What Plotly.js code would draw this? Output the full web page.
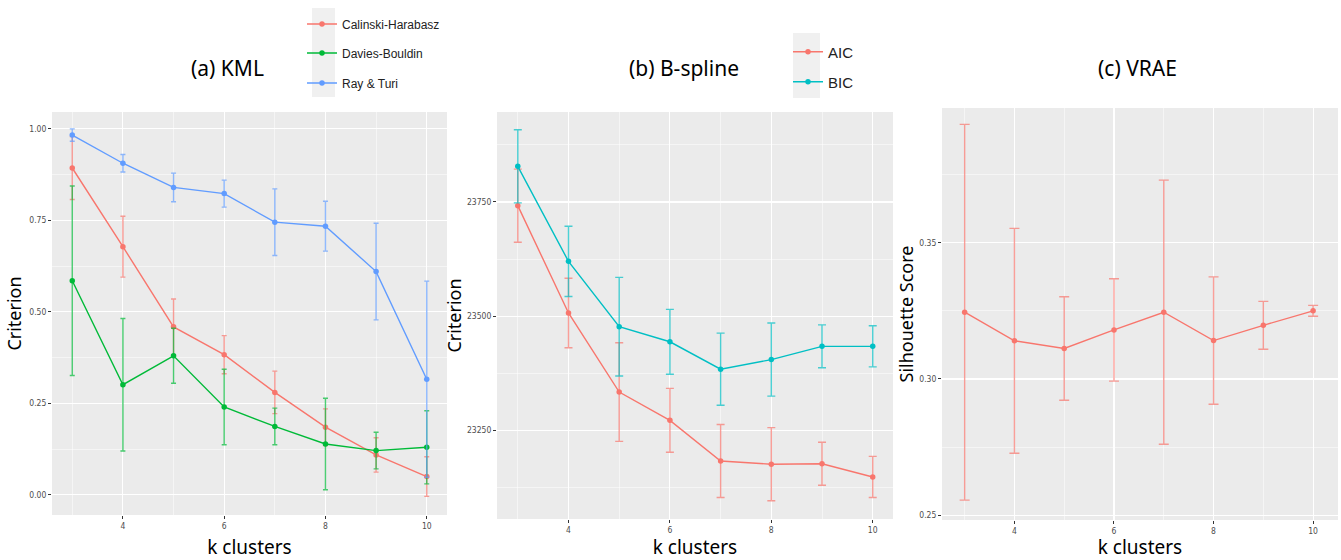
<!DOCTYPE html>
<html><head><meta charset="utf-8">
<script src="https://cdn.plot.ly/plotly-3.0.1.min.js"></script>
<style>html,body{margin:0;padding:0;background:#fff}#chart{width:1341px;height:560px}</style>
</head><body><div id="chart"></div>
<script>
// ---------- data ----------
const kClusters = [3, 4, 5, 6, 7, 8, 9, 10];

// (a) KML
const calinskiMean = [0.893, 0.678, 0.459, 0.383, 0.280, 0.185, 0.109, 0.050];
const calinskiErr  = [0.086, 0.083, 0.076, 0.052, 0.058, 0.050, 0.047, 0.054];
const daviesMean   = [0.585, 0.301, 0.380, 0.240, 0.187, 0.139, 0.121, 0.130];
const daviesErr    = [0.259, 0.181, 0.075, 0.103, 0.050, 0.125, 0.050, 0.100];
const rayTuriMean  = [0.983, 0.906, 0.840, 0.823, 0.745, 0.734, 0.610, 0.316];
const rayTuriErr   = [0.017, 0.024, 0.039, 0.037, 0.091, 0.068, 0.132, 0.268];

// (b) B-spline
const aicMean = [23742, 23507, 23334, 23272, 23183, 23176, 23177, 23148];
const aicErr  = [80, 76, 108, 70, 80, 80, 47, 45];
const bicMean = [23828, 23620, 23477, 23444, 23384, 23405, 23434, 23434];
const bicErr  = [80, 77, 108, 71, 79, 80, 47, 45];

// (c) VRAE
const silMean = [0.3245, 0.3140, 0.3112, 0.3180, 0.3245, 0.3141, 0.3197, 0.3250];
const silErr  = [0.0690, 0.0413, 0.0190, 0.0188, 0.0485, 0.0234, 0.0088, 0.0020];

const panelTitles = ['(a) KML', '(b) B-spline', '(c) VRAE'];

// ---------- styling ----------
const RED = '#F8766D', GREEN = '#00BA38', BLUE = '#619CFF', TEAL = '#00BFC4';
const W = 1341, H = 560;
const px = v => v / W;
const py = v => 1 - v / H;
const TICKFONT = {family: 'Liberation Sans Narrow, DejaVu Sans Condensed, Liberation Sans, sans-serif', size: 8.5, color: '#4d4d4d'};
const TITLEFONT = 'Noto Sans, Open Sans, Liberation Sans, sans-serif';

function rgba(hex, a) {
  const r = parseInt(hex.slice(1,3),16), g = parseInt(hex.slice(3,5),16), b = parseInt(hex.slice(5,7),16);
  return `rgba(${r},${g},${b},${a})`;
}

function series(name, y, err, color, xa, ya, legend, showlegend, capw) {
  return {
    type: 'scatter', mode: 'lines+markers', name: name,
    x: kClusters, y: y, xaxis: xa, yaxis: ya,
    line: {color: color, width: 1.4},
    marker: {color: color, size: 5.5},
    error_y: {type: 'data', array: err, symmetric: true, color: rgba(color, 0.7), thickness: 1.4, width: capw},
    legend: legend, showlegend: showlegend
  };
}

const traces = [
  series('Calinski-Harabasz', calinskiMean, calinskiErr, RED, 'x', 'y', 'legend', true, 2.5),
  series('Davies-Bouldin', daviesMean, daviesErr, GREEN, 'x', 'y', 'legend2', true, 2.5),
  series('Ray & Turi', rayTuriMean, rayTuriErr, BLUE, 'x', 'y', 'legend3', true, 2.5),
  series('AIC', aicMean, aicErr, RED, 'x2', 'y2', 'legend4', true, 4),
  series('BIC', bicMean, bicErr, TEAL, 'x2', 'y2', 'legend5', true, 4),
  series('Silhouette', silMean, silErr, RED, 'x3', 'y3', 'legend', false, 5)
];

function xAxis(dom, range, anchor) {
  return {
    domain: dom, range: range, anchor: anchor,
    tickmode: 'linear', tick0: 4, dtick: 2,
    showgrid: true, gridcolor: '#ffffff', gridwidth: 1.1, zeroline: false, showline: false,
    minor: {tickmode: 'linear', tick0: 3, dtick: 1, showgrid: true, gridcolor: '#ffffff', gridwidth: 0.5, ticks: ''},
    ticks: 'outside', ticklen: 3, tickcolor: '#333', tickwidth: 1,
    tickfont: TICKFONT,
    title: {text: 'k clusters', font: {family: TITLEFONT, size: 19, color: '#000'}, standoff: 13}
  };
}
function yAxis(dom, range, tick0, dtick, minor, fmt, anchor, title, standoff) {
  return {
    domain: dom, range: range, anchor: anchor,
    tickmode: 'linear', tick0: tick0, dtick: dtick, tickformat: fmt,
    showgrid: true, gridcolor: '#ffffff', gridwidth: 1.1, zeroline: false, showline: false,
    minor: {tickmode: 'linear', tick0: tick0, dtick: minor, showgrid: true, gridcolor: '#ffffff', gridwidth: 0.5, ticks: ''},
    ticks: 'outside', ticklen: 3, tickcolor: '#333', tickwidth: 1,
    tickfont: TICKFONT,
    title: {text: title, font: {family: TITLEFONT, size: 18, color: '#000'}, standoff: standoff}
  };
}

function legendAt(x, yc, size) {
  return {x: px(x), y: py(yc), xanchor: 'left', yanchor: 'middle', bgcolor: 'rgba(0,0,0,0)',
          font: {family: 'Liberation Sans, Arial, sans-serif', size: size, color: '#222'}, borderwidth: 0};
}

const layout = {
  width: W, height: H,
  margin: {l: 0, r: 0, t: 0, b: 0},
  paper_bgcolor: '#ffffff', plot_bgcolor: '#ebebeb',
  showlegend: true,
  xaxis: xAxis([px(52), px(447)], [2.6, 10.4], 'y'),
  yaxis: yAxis([py(515), py(112)], [-0.055, 1.046], 0, 0.25, 0.125, '.2f', 'x', 'Criterion', 2),
  xaxis2: xAxis([px(497), px(893)], [2.59, 10.4], 'y2'),
  yaxis2: yAxis([py(519), py(112)], [23056, 23947], 23250, 250, 125, 'd', 'x2', 'Criterion', 0),
  xaxis3: xAxis([px(942), px(1338)], [2.545, 10.5], 'y3'),
  yaxis3: yAxis([py(520), py(108)], [0.2482, 0.3995], 0.25, 0.05, 0.025, '.2f', 'x3', 'Silhouette Score', 0),
  legend: legendAt(302, 24, 12),
  legend2: legendAt(302, 53, 12),
  legend3: legendAt(302, 83, 12),
  legend4: legendAt(788, 52, 15),
  legend5: legendAt(788, 82, 15),
  shapes: [
    {type: 'rect', xref: 'paper', yref: 'paper', x0: px(312), x1: px(335), y0: py(97), y1: py(8), fillcolor: '#f0f0f0', line: {width: 0}, layer: 'below'},
    {type: 'rect', xref: 'paper', yref: 'paper', x0: px(793), x1: px(820), y0: py(98), y1: py(33), fillcolor: '#f0f0f0', line: {width: 0}, layer: 'below'}
  ],
  annotations: [
    {text: panelTitles[0], xref: 'paper', yref: 'paper', x: px(227), y: py(68), showarrow: false, xanchor: 'center', yanchor: 'middle', font: {family: TITLEFONT, size: 21, color: '#000'}},
    {text: panelTitles[1], xref: 'paper', yref: 'paper', x: px(684), y: py(68), showarrow: false, xanchor: 'center', yanchor: 'middle', font: {family: TITLEFONT, size: 21, color: '#000'}},
    {text: panelTitles[2], xref: 'paper', yref: 'paper', x: px(1137), y: py(68), showarrow: false, xanchor: 'center', yanchor: 'middle', font: {family: TITLEFONT, size: 21, color: '#000'}}
  ]
};

Plotly.newPlot('chart', traces, layout, {displayModeBar: false, staticPlot: true});
</script>
</body></html>
